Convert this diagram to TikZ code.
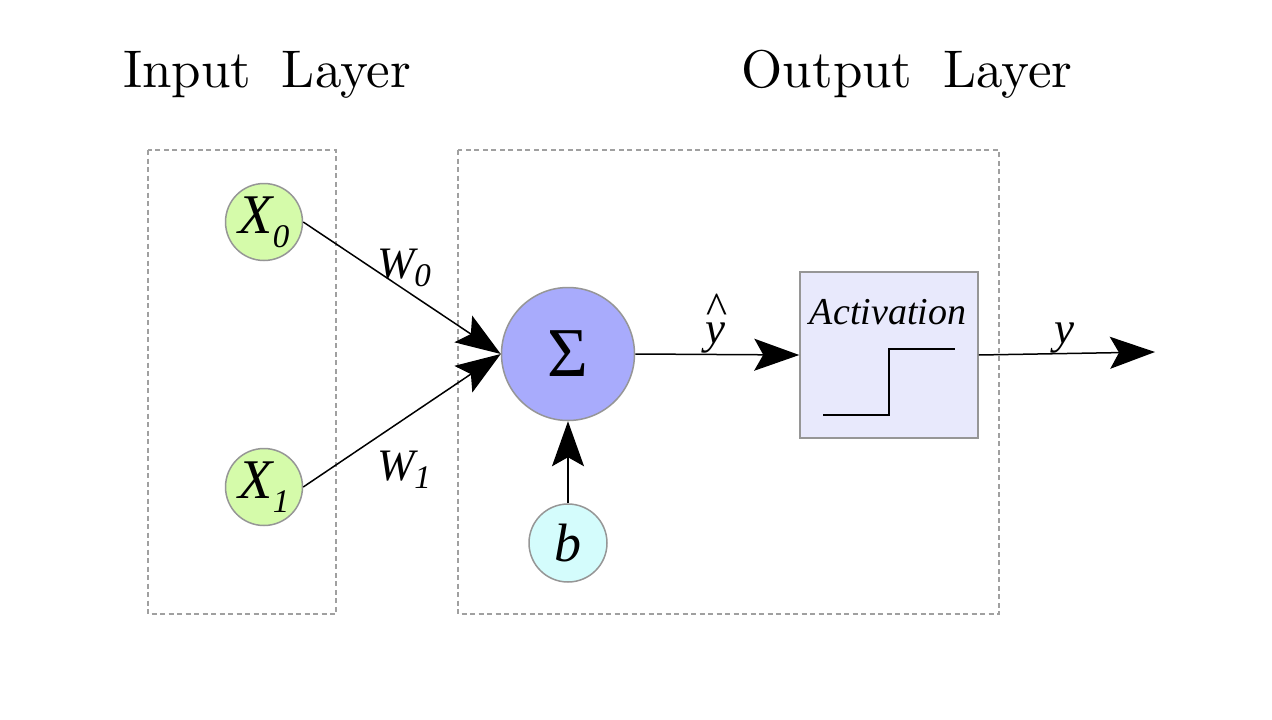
\documentclass[tikz,border=0pt]{standalone}
\usepackage{fontspec}
\newfontfamily\tnr{Liberation Serif}
\newfontfamily\cmten{lmroman10-regular}[Extension=.otf]
\usetikzlibrary{arrows.meta}
\definecolor{xgreen}{HTML}{D5FBAA}
\definecolor{sigblue}{HTML}{A8ABFC}
\definecolor{bcyan}{HTML}{D4FCFC}
\definecolor{actfill}{HTML}{E8E9FC}
\definecolor{bordergray}{HTML}{969696}
\definecolor{dashgray}{HTML}{A0A0A0}
\newcommand\sbx[2]{\raisebox{-#1}{\fontsize{33}{33}\selectfont #2}}
\tikzset{
  title/.style={font={\cmten\fontsize{53}{60}\selectfont\spaceskip=0.58em plus 0pt}, inner sep=0pt},
  group/.style={draw=dashgray, line width=1.5pt, dash pattern=on 5pt off 3.5pt},
  circnode/.style={circle, draw=bordergray, line width=1.5pt, inner sep=0pt},
  xnode/.style={circnode, fill=xgreen, minimum size=77pt, font={\tnr\itshape\fontsize{56}{60}\selectfont}},
  signode/.style={circnode, fill=sigblue, minimum size=133pt, font={\tnr\fontsize{70}{70}\selectfont}},
  bnode/.style={circnode, fill=bcyan, minimum size=78pt, font={\tnr\itshape\fontsize{54}{60}\selectfont}},
  actbox/.style={rectangle, draw=bordergray, fill=actfill, line width=1.5pt, minimum width=178pt, minimum height=166pt, inner sep=0pt},
  acttext/.style={font={\tnr\itshape\fontsize{38}{40}\selectfont}, inner sep=0pt},
  wlab/.style={font={\tnr\itshape\fontsize{45}{50}\selectfont}, inner sep=0pt},
  ylab/.style={font={\tnr\itshape\fontsize{45}{50}\selectfont}, inner sep=0pt},
  conn/.style={line width=1.5pt, -{Stealth[length=45pt,width=32pt,inset=9pt]}},
  stepline/.style={line width=1.8pt}
}
\begin{document}
\begin{tikzpicture}[x=1pt,y=-1pt]
\useasboundingbox[fill=white] (0,0) rectangle (1272,720);
% titles
\node[title, anchor=base] (tin) at (267,87) {Input Layer};
\node[title, anchor=base] (tout) at (907,87) {Output Layer};
% groups
\draw[group] (148,150) rectangle (336,614);
\draw[group] (458,150) rectangle (999,614);
% nodes
\node[xnode] (x0) at (264,222) {X\sbx{14pt}{0}};
\node[xnode] (x1) at (264,487) {X\sbx{14pt}{1}};
\node[signode] (sig) at (568,354) {Σ};
\node[bnode] (b) at (568,543) {b};
\node[actbox] (act) at (889,355) {};
\node[acttext] (actlbl) at (888,312) {Activation};
\draw[stepline] (823,415) -- (889,415) -- (889,349) -- (955,349);
% labels
\node[wlab] (w0) at (404,268) {W\sbx{8pt}{0}};
\node[wlab] (w1) at (404,470) {W\sbx{8pt}{1}};
\node[ylab, anchor=base] (yhat) at (715,343) {\ooalign{\hfil\raisebox{20pt}{\textasciicircum}\hfil\cr y\cr}};
\node[ylab, anchor=base] (yout) at (1064,343) {y};
% connectors
\coordinate (out) at (1155,352);
\draw[conn] (x0.east) -- (sig.west);
\draw[conn] (x1.east) -- (sig.west);
\draw[conn] (b.north) -- (sig.south);
\draw[conn] (sig.east) -- (act.west);
\draw[conn] (act.east) -- (out);
\end{tikzpicture}
\end{document}
